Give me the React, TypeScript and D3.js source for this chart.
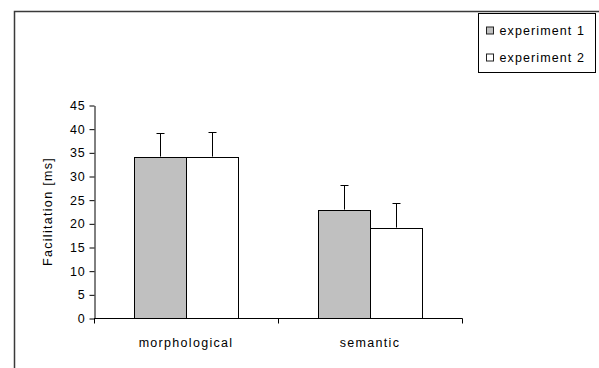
import React, { useEffect, useRef } from 'react';
import * as d3 from 'd3';

const categories = ['morphological', 'semantic'];
const seriesNames = ['experiment 1', 'experiment 2'];
const experiment1 = [34.1, 22.9];
const experiment2 = [34.1, 19.1];
const error1 = [4.9, 5.2];
const error2 = [5.2, 5.2];
const yTicks = [0, 5, 10, 15, 20, 25, 30, 35, 40, 45];

const fills = ['#c0c0c0', '#ffffff'];

const W = 599;
const H = 368;

const App: React.FC = () => {
  const svgRef = useRef<SVGSVGElement>(null);

  useEffect(() => {
    const svg = d3.select(svgRef.current);
    svg.selectAll('*').remove();

    const font = 'Liberation Sans, Arial, sans-serif';
    const fs = 12.5;

    // outer chart frame
    svg.append('rect')
      .attr('x', 14.5)
      .attr('y', 11.5)
      .attr('width', W)
      .attr('height', H)
      .attr('fill', 'white')
      .attr('stroke', '#3a3a3a')
      .attr('stroke-width', 1.5);

    const left = 94;
    const right = 462;
    const top = 105;
    const bottom = 318;

    const x = d3.scaleBand<string>().domain(categories).range([left, right]).padding(0);
    const y = d3.scaleLinear().domain([0, 45]).range([bottom, top]);
    const groupW = 104;
    const x1 = d3.scaleBand<string>().domain(seriesNames).range([0, groupW]).padding(0);

    const rows = categories.map((c, i) => ({
      cat: c,
      vals: [
        { s: seriesNames[0], v: experiment1[i], e: error1[i], fill: fills[0] },
        { s: seriesNames[1], v: experiment2[i], e: error2[i], fill: fills[1] },
      ],
    }));

    const g = svg.append('g');

    const groups = g.selectAll('.grp')
      .data(rows)
      .enter().append('g')
      .attr('transform', d => `translate(${(x(d.cat) as number) + (x.bandwidth() - groupW) / 2},0)`);

    // error bars first so bars cover the lower half
    groups.selectAll('.err')
      .data(d => d.vals)
      .enter().append('g')
      .each(function (d) {
        const cx = Math.round((x1(d.s) as number) + x1.bandwidth() / 2) + 0.5;
        const ty = Math.round(y(d.v + d.e)) + 0.5;
        const sel = d3.select(this);
        sel.append('line')
          .attr('x1', cx).attr('x2', cx)
          .attr('y1', y(d.v)).attr('y2', ty)
          .attr('stroke', 'black').attr('stroke-width', 1);
        sel.append('line')
          .attr('x1', cx - 4).attr('x2', cx + 4)
          .attr('y1', ty).attr('y2', ty)
          .attr('stroke', 'black').attr('stroke-width', 1);
      });

    groups.selectAll('.bar')
      .data(d => d.vals)
      .enter().append('rect')
      .attr('x', d => Math.round(x1(d.s) as number) + 0.5)
      .attr('y', d => Math.round(y(d.v)) + 0.5)
      .attr('width', Math.round(x1.bandwidth()))
      .attr('height', d => Math.round(bottom - y(d.v)))
      .attr('fill', d => d.fill)
      .attr('stroke', 'black')
      .attr('stroke-width', 1);

    // y axis
    const yAxis = d3.axisLeft(y).tickValues(yTicks).tickSize(5).tickSizeOuter(0).tickPadding(4);
    const ya = svg.append('g')
      .attr('transform', `translate(${left + 0.5},0.5)`)
      .call(yAxis);
    ya.selectAll('path, line').attr('stroke', 'black');
    ya.selectAll('text')
      .attr('font-family', font)
      .attr('font-size', fs)
      .attr('letter-spacing', 0.8)
      .attr('fill', 'black');

    // x axis
    const xa = svg.append('g').attr('transform', `translate(0,${bottom + 0.5})`);
    xa.append('line')
      .attr('x1', left).attr('x2', right + 0.5)
      .attr('stroke', 'black');
    const edges = [left, ...categories.map(c => (x(c) as number) + x.bandwidth())];
    xa.selectAll('.xt')
      .data(edges)
      .enter().append('line')
      .attr('x1', d => Math.round(d) + 0.5).attr('x2', d => Math.round(d) + 0.5)
      .attr('y1', 0).attr('y2', 5)
      .attr('stroke', 'black');
    xa.selectAll('.xl')
      .data(categories)
      .enter().append('text')
      .attr('x', d => (x(d) as number) + x.bandwidth() / 2)
      .attr('y', 28)
      .attr('text-anchor', 'middle')
      .attr('font-family', font)
      .attr('font-size', fs)
      .attr('letter-spacing', 1.3)
      .text(d => d);

    // y title
    svg.append('text')
      .attr('transform', `translate(52,${(top + bottom) / 2}) rotate(-90)`)
      .attr('text-anchor', 'middle')
      .attr('font-family', font)
      .attr('font-size', fs)
      .attr('letter-spacing', 1.3)
      .text('Facilitation [ms]');

    // legend
    const lg = svg.append('g').attr('transform', 'translate(478.5,13.5)');
    lg.append('rect')
      .attr('width', 117)
      .attr('height', 59)
      .attr('fill', 'white')
      .attr('stroke', 'black')
      .attr('stroke-width', 1);
    const items = lg.selectAll('.li')
      .data(seriesNames)
      .enter().append('g')
      .attr('transform', (_d, i) => `translate(8,${17 + i * 27})`);
    items.append('rect')
      .attr('x', 0).attr('y', -3.5)
      .attr('width', 7).attr('height', 7)
      .attr('fill', (_d, i) => fills[i])
      .attr('stroke', '#222');
    items.append('text')
      .attr('x', 13)
      .attr('y', 0)
      .attr('dy', '0.35em')
      .attr('font-family', font)
      .attr('font-size', fs)
      .attr('letter-spacing', 1.1)
      .text(d => d);
  }, []);

  return (
    <svg
      ref={svgRef}
      width={W}
      height={H}
      style={{ position: 'absolute', left: 0, top: 0, background: 'white' }}
    />
  );
};

export default App;
